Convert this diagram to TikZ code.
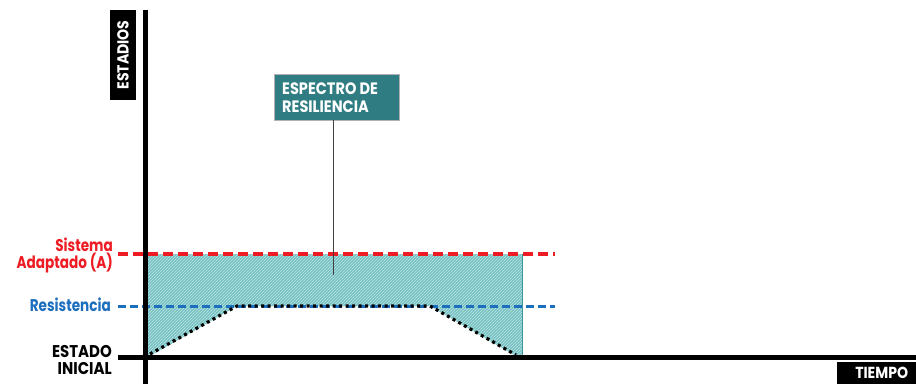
\documentclass[tikz,border=0pt]{standalone}
\usepackage{fontspec}
\usepackage{graphicx}
\setmainfont{Poppins}
\usetikzlibrary{patterns}
\definecolor{tealbox}{RGB}{47,125,130}
\definecolor{hatchbg}{RGB}{118,192,194}
\definecolor{hatchln}{RGB}{190,230,230}
\definecolor{hatchedge}{RGB}{60,150,155}
\definecolor{redA}{RGB}{237,28,36}
\definecolor{blueR}{RGB}{28,110,190}
\newcommand\narrowtxt[1]{\scalebox{0.8}[1]{#1}}
\newcommand\narrowcap[1]{\scalebox{0.88}[1]{#1}}
\tikzset{
  axis/.style={line width=5pt, black},
  lbl/.style={font=\fontsize{17}{17}\selectfont\bfseries, align=right, anchor=base east, inner sep=0pt},
  tag/.style={fill=black, text=white, font=\fontsize{16}{17}\selectfont\bfseries, inner sep=0pt},
  reddash/.style={redA, line width=4pt, dash pattern=on 10pt off 5pt},
  bluedash/.style={blueR, line width=3pt, dash pattern=on 8pt off 4pt},
  blackdot/.style={black, line width=3.2pt, dash pattern=on 3pt off 3.5pt},
}
\begin{document}
\begin{tikzpicture}[x=1pt,y=-1pt]
\useasboundingbox (0,0) rectangle (916,384);
% hatched spectrum
\fill[hatchbg] (147,254) -- (522,254) -- (522,356) -- (516,356) -- (430,306) -- (237,306) -- (150,356) -- (147,356) -- cycle;
\fill[pattern=north east lines, pattern color=hatchln] (147,254) -- (522,254) -- (522,356) -- (516,356) -- (430,306) -- (237,306) -- (150,356) -- (147,356) -- cycle;
\draw[hatchedge, line width=1pt] (522,254) -- (522,356);
% level coordinates
\coordinate (redL) at (118,254); \coordinate (redR) at (555,254);
\coordinate (blueL) at (118,306); \coordinate (blueR) at (555,306);
\draw[reddash] (redL) -- (redR);
\draw[bluedash] (blueL) -- (blueR);
% dotted trajectory
\coordinate (d0) at (150,354); \coordinate (d1) at (237,306);
\coordinate (d2) at (430,306); \coordinate (d3) at (516,355);
\draw[blackdot] (d0) -- (d1) -- (d2) -- (d3);
% axes
\coordinate (yTop) at (145,10); \coordinate (yBot) at (145,384);
\coordinate (xL) at (118,357); \coordinate (xR) at (916,357);
\draw[axis] (yTop) -- (yBot);
\draw[axis] (xL) -- (xR);
% axis tags
\node[tag, minimum width=90pt, minimum height=26pt, rotate=90] (estadios) at (123,55) {\narrowcap{ESTADIOS}};
\node[tag, minimum width=89pt, minimum height=22pt, anchor=north west] (tiempo) at (837,362) {\narrowcap{TIEMPO}};
% labels
\node[lbl, text=redA] (sistema) at (113,268) {\narrowtxt{Sistema}\\\narrowtxt{Adaptado (A)}};
\node[lbl, text=blueR] (resist) at (111,311) {\narrowtxt{Resistencia}};
\node[lbl, text=black] (estado) at (112,374) {\narrowcap{ESTADO}\\\narrowcap{INICIAL}};
% spectrum box
\node[fill=tealbox, draw=gray!60, minimum width=125pt, minimum height=46pt, anchor=north west, inner sep=0pt] (box) at (274,74) {};
\node[text=white, font=\fontsize{16.5}{18}\selectfont\bfseries, align=left, anchor=base west, inner sep=0pt] (boxtxt) at (282,112) {\narrowcap{ESPECTRO DE}\\\narrowcap{RESILIENCIA}};
\coordinate (ptr) at (333,275);
\draw[gray!50!black, line width=0.8pt] (box.south -| ptr) -- (ptr);
\end{tikzpicture}
\end{document}
